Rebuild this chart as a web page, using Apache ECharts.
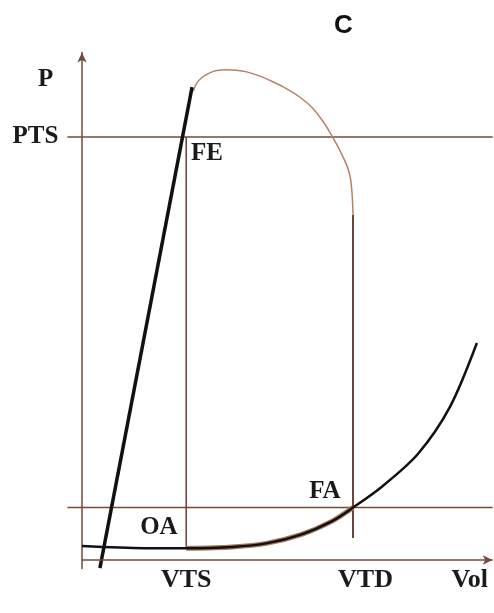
<!DOCTYPE html>
<html>
<head>
<meta charset="utf-8">
<script src="https://cdn.jsdelivr.net/npm/echarts@6/dist/echarts.min.js"></script>
<style>
  html, body { margin: 0; padding: 0; background: #fff; }
  #chart { width: 494px; height: 613px; }
</style>
</head>
<body>
<div id="chart"></div>
<script>
// reference levels
var VTS = 50, VTD = 130, PTS = 100, EDP = 12.4;
var volMin = -8, volMax = 197, pMin = -2, pMax = 120;

// end-systolic P-V relation (straight line)
var espvrVol = [8.6, 52.8];
var espvrP   = [-1.9, 111.8];

// end-diastolic P-V relation (filling curve)
var edpvrVol = [0, 30, 50, 72, 89, 105, 120, 130, 144, 161, 176.5, 189.4];
var edpvrP   = [3.3, 2.8, 2.8, 3.1, 4.0, 6.0, 9.2, 12.4, 17.4, 25.0, 36.2, 51.3];

// filling part of the loop (VTS -> FA)
var fillVol = [50, 72, 89, 105, 120, 130];
var fillP   = [2.8, 3.1, 4.0, 6.0, 9.2, 12.4];

// ejection arc of the loop
var arcVol = [53.4, 55.0, 57.4, 60.6, 64.6, 69.4, 74.2, 79.0, 85.4, 91.8, 98.2, 104.6, 110.9, 115.7, 118.9, 122.1, 125.3, 127.7, 128.9, 129.6, 130];
var arcP   = [110.9, 112.7, 114.0, 115.0, 115.7, 115.9, 115.8, 115.4, 114.4, 113.0, 111.4, 109.4, 106.7, 103.6, 101.1, 98.3, 95.2, 92.4, 89.8, 86.2, 81.6];

// point labels
var ptNames = ['FE', 'OA', 'FA'];
var ptVol   = [60, 36.9, 116.5];
var ptP     = [96.2, 7.6, 16.1];

// axis tick labels
var xTickVals  = [VTS, 136, 186];
var xTickNames = ['VTS', 'VTD', 'Vol'];
var yTickVals  = [PTS, 113.5];
var yTickNames = ['PTS', 'P'];

function zip(a, b) { return a.map(function (v, i) { return [v, b[i]]; }); }

var brown = '#75493b';
var serif = 'Liberation Serif';
var ink = '#1a1a1a';

var chart = echarts.init(document.getElementById('chart'));
chart.setOption({
  backgroundColor: '#fff',
  animation: false,
  title: {
    text: 'C', left: 329, top: 8,
    textStyle: { fontSize: 26, fontWeight: 'bold', fontFamily: 'Liberation Sans', color: '#111' }
  },
  grid: { left: 65.3, top: 52.4, width: 427.4, height: 516.1 },
  xAxis: {
    type: 'value', min: volMin, max: volMax,
    splitLine: { show: false },
    axisTick: { show: false },
    axisLine: { show: false, onZero: true },
    axisLabel: {
      customValues: xTickVals, margin: -1,
      formatter: function (v) { return xTickNames[xTickVals.indexOf(v)]; },
      fontFamily: serif, fontWeight: 'bold', fontSize: 26, color: ink
    }
  },
  yAxis: {
    type: 'value', min: pMin, max: pMax,
    splitLine: { show: false },
    axisTick: { show: false },
    axisLine: { show: true, onZero: true, symbol: ['none', 'arrow'], symbolSize: [7, 10],
      lineStyle: { color: brown, width: 1.5 } },
    axisLabel: {
      customValues: yTickVals, margin: 7,
      formatter: function (v) {
        var n = yTickNames[yTickVals.indexOf(v)];
        return n === 'P' ? '{p|P}' : n;
      },
      rich: { p: { fontFamily: serif, fontWeight: 'bold', fontSize: 25, color: ink, padding: [0, 5, 0, 0] } },
      fontFamily: serif, fontWeight: 'bold', fontSize: 25, color: ink
    }
  },
  series: [
    { // PTS level + x axis line
      type: 'line', showSymbol: false, silent: true,
      data: [[-7, PTS], [volMax, PTS]],
      lineStyle: { color: brown, width: 1.5 },
      markLine: {
        silent: true, symbol: ['none', 'arrow'], symbolSize: [7, 10],
        label: { show: false },
        lineStyle: { color: brown, width: 1.5, type: 'solid' },
        data: [[{ coord: [0, 0] }, { coord: [volMax, 0] }]]
      }
    },
    { // EDP level
      type: 'line', showSymbol: false, silent: true,
      data: [[-7, EDP], [volMax, EDP]],
      lineStyle: { color: brown, width: 1.5 }
    },
    { // VTS vertical
      type: 'line', showSymbol: false, silent: true,
      data: [[VTS, 2.8], [VTS, PTS]],
      lineStyle: { color: '#6b3f33', width: 1.5 }
    },
    { // VTD vertical
      type: 'line', showSymbol: false, silent: true,
      data: [[VTD, 5.2], [VTD, 81.6]],
      lineStyle: { color: '#5a3228', width: 1.8 }
    },
    { // ejection arc
      type: 'line', smooth: 0.3, showSymbol: false, silent: true,
      data: zip(arcVol, arcP),
      lineStyle: { color: '#b98164', width: 1.5 }
    },
    { // filling phase (brown under black)
      type: 'line', smooth: 0.3, showSymbol: false, silent: true,
      data: zip(fillVol, fillP),
      lineStyle: { color: '#a8785e', width: 5 }
    },
    { // EDPVR
      type: 'line', smooth: 0.3, showSymbol: false, silent: true,
      data: zip(edpvrVol, edpvrP),
      lineStyle: { color: '#111', width: 2.5 }
    },
    { // ESPVR
      type: 'line', showSymbol: false, silent: true,
      data: zip(espvrVol, espvrP),
      lineStyle: { color: '#111', width: 3.5 }
    },
    { // point labels
      type: 'scatter', symbolSize: 0, silent: true,
      itemStyle: { opacity: 1 },
      data: ptNames.map(function (n, i) { return { name: n, value: [ptVol[i], ptP[i]] }; }),
      label: {
        show: true, position: [0, 0], align: 'center', verticalAlign: 'middle', formatter: '{b}',
        fontFamily: serif, fontWeight: 'bold', fontSize: 25, color: ink
      }
    }
  ]
});
</script>
</body>
</html>
